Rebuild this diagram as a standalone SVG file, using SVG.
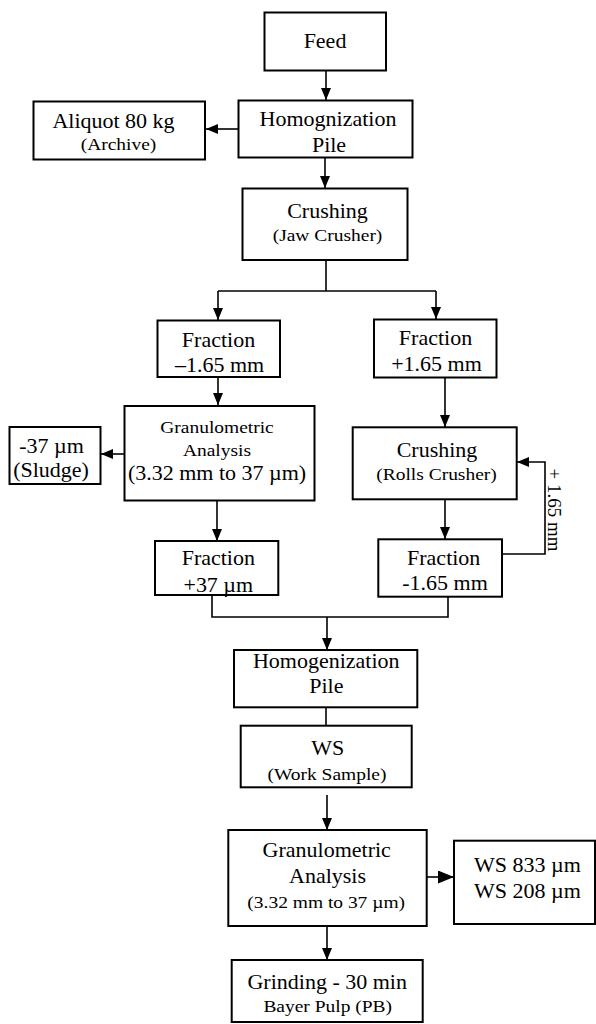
<svg xmlns="http://www.w3.org/2000/svg" width="596" height="1024" viewBox="0 0 596 1024">
<style>
rect{fill:#fff;stroke:#000;stroke-width:2}
text{font-family:"Liberation Serif","Times New Roman",serif;fill:#000;text-anchor:middle}
.m{font-size:20px}
.s{font-size:17.7px}
.l{text-anchor:start}
#connectors path,#connectors line,#connectors polyline{fill:none;stroke:#000;stroke-width:1.6}
</style>
<defs>
<marker id="arr" markerUnits="userSpaceOnUse" markerWidth="13" markerHeight="11" refX="12" refY="5" orient="auto"><path d="M0,0 L12,5 L0,10 z" fill="#000"/></marker>
<marker id="arrB" markerUnits="userSpaceOnUse" markerWidth="17" markerHeight="14" refX="16" refY="6.5" orient="auto"><path d="M0,0 L16,6.5 L0,13 z" fill="#000"/></marker>
</defs>
<rect x="0" y="0" width="596" height="1024" style="stroke:none"/>
<g id="connectors">
<line x1="326" y1="71" x2="326" y2="100" marker-end="url(#arr)"/>
<line x1="238" y1="129" x2="206" y2="129" marker-end="url(#arr)"/>
<line x1="325" y1="158" x2="325" y2="188" marker-end="url(#arr)"/>
<line x1="326" y1="260" x2="326" y2="291"/>
<polyline points="218,320 218,291 436,291 436,319" style="stroke:none"/>
<line x1="218" y1="291" x2="436" y2="291"/>
<line x1="218" y1="291" x2="218" y2="320" marker-end="url(#arr)"/>
<line x1="436" y1="291" x2="436" y2="319" marker-end="url(#arr)"/>
<line x1="218" y1="377" x2="218" y2="405" marker-end="url(#arr)"/>
<line x1="124" y1="454" x2="101" y2="454" marker-end="url(#arr)"/>
<line x1="445" y1="378" x2="445" y2="427" marker-end="url(#arr)"/>
<line x1="445" y1="499" x2="445" y2="539" marker-end="url(#arr)"/>
<polyline points="502,554 545,554 545,462 517,462" marker-end="url(#arr)"/>
<line x1="217" y1="501" x2="217" y2="541" marker-end="url(#arr)"/>
<polyline points="212,595 212,617 448,617 448,597"/>
<line x1="327" y1="617" x2="327" y2="650" marker-end="url(#arr)"/>
<line x1="326" y1="707" x2="326" y2="726"/>
<line x1="327" y1="795" x2="327" y2="830" marker-end="url(#arr)"/>
<line x1="427" y1="877" x2="454" y2="877" marker-end="url(#arrB)"/>
<line x1="327" y1="926" x2="327" y2="960" marker-end="url(#arr)"/>
<text class="s" style="font-size:19px" transform="translate(548,510) rotate(90)">+ 1.65 mm</text>
</g>
<g id="feed">
<rect x="264.5" y="12.5" width="121.5" height="58"/>
<text class="m" transform="translate(325,48) scale(1.1,1)">Feed</text>
</g>
<g id="homog1">
<rect x="238.5" y="100.5" width="174" height="57"/>
<text class="m" transform="translate(328,126) scale(1.1,1)">Homognization</text>
<text class="m" transform="translate(329,151.5) scale(1.1,1)">Pile</text>
</g>
<g id="aliquot">
<rect x="33.5" y="101.5" width="171.5" height="58"/>
<text class="m" transform="translate(113.5,128) scale(1.1,1)">Aliquot 80 kg</text>
<text class="s" transform="translate(118.5,150) scale(1.1,1)">(Archive)</text>
</g>
<g id="jaw">
<rect x="242.5" y="188.5" width="165" height="71.5"/>
<text class="m" transform="translate(327.5,217.5) scale(1.1,1)">Crushing</text>
<text class="s" transform="translate(327.5,241) scale(1.1,1)">(Jaw Crusher)</text>
</g>
<g id="frac-minus">
<rect x="157.5" y="320.5" width="122.5" height="56.5"/>
<text class="m" transform="translate(218.5,346.5) scale(1.1,1)">Fraction</text>
<text class="m" transform="translate(219.5,371.5) scale(1.1,1)">–1.65 mm</text>
</g>
<g id="frac-plus">
<rect x="374" y="319.5" width="122.5" height="58"/>
<text class="m" transform="translate(435.5,345) scale(1.1,1)">Fraction</text>
<text class="m" transform="translate(436.5,370.5) scale(1.1,1)">+1.65 mm</text>
</g>
<g id="gran1">
<rect x="124.5" y="406" width="190" height="94.5"/>
<text class="s" transform="translate(217,433.3) scale(1.1,1)">Granulometric</text>
<text class="s" transform="translate(217,456) scale(1.1,1)">Analysis</text>
<text class="m" transform="translate(217,480) scale(1.1,1)">(3.32 mm to 37 µm)</text>
</g>
<g id="sludge">
<rect x="9.5" y="427" width="91" height="57"/>
<text class="m" transform="translate(51.5,453.3) scale(1.1,1)">-37 µm</text>
<text class="m" transform="translate(51,476.7) scale(1.1,1)">(Sludge)</text>
</g>
<g id="rolls">
<rect x="352.7" y="427.3" width="164" height="72"/>
<text class="m" transform="translate(437,456.7) scale(1.1,1)">Crushing</text>
<text class="s" transform="translate(436.5,480) scale(1.1,1)">(Rolls Crusher)</text>
</g>
<g id="frac-plus37">
<rect x="155" y="541" width="123.3" height="54"/>
<text class="m" transform="translate(218.3,565) scale(1.1,1)">Fraction</text>
<text class="m" transform="translate(218.3,591.5) scale(1.1,1)">+37 µm</text>
</g>
<g id="frac-minus2">
<rect x="378.3" y="539.3" width="123.7" height="57.4"/>
<text class="m" transform="translate(443.7,565) scale(1.1,1)">Fraction</text>
<text class="m" transform="translate(445,590) scale(1.1,1)">-1.65 mm</text>
</g>
<g id="homog2">
<rect x="234" y="650" width="183.3" height="57.3"/>
<text class="m" transform="translate(326.2,668.3) scale(1.1,1)">Homogenization</text>
<text class="m" transform="translate(326.3,693.3) scale(1.1,1)">Pile</text>
</g>
<g id="ws">
<rect x="240.7" y="725.7" width="171" height="61.6"/>
<text class="m" transform="translate(327.8,755) scale(1.1,1)">WS</text>
<text class="s" transform="translate(327,780) scale(1.1,1)">(Work Sample)</text>
</g>
<g id="gran2">
<rect x="228.3" y="830" width="198.4" height="96"/>
<text class="m" transform="translate(326.7,857.3) scale(1.1,1)">Granulometric</text>
<text class="m" transform="translate(327.5,883.3) scale(1.1,1)">Analysis</text>
<text class="s" transform="translate(326.2,908.3) scale(1.1,1)">(3.32 mm to 37 µm)</text>
</g>
<g id="ws-results">
<rect x="454" y="840.7" width="141" height="83.3"/>
<text class="m l" transform="translate(474,871.7) scale(1.1,1)">WS 833 µm</text>
<text class="m l" transform="translate(474,898.3) scale(1.1,1)">WS 208 µm</text>
</g>
<g id="grinding">
<rect x="231.7" y="960" width="191" height="62"/>
<text class="m" transform="translate(327.2,989.3) scale(1.1,1)">Grinding - 30 min</text>
<text class="s" transform="translate(327.7,1011.7) scale(1.1,1)">Bayer Pulp (PB)</text>
</g>
</svg>
